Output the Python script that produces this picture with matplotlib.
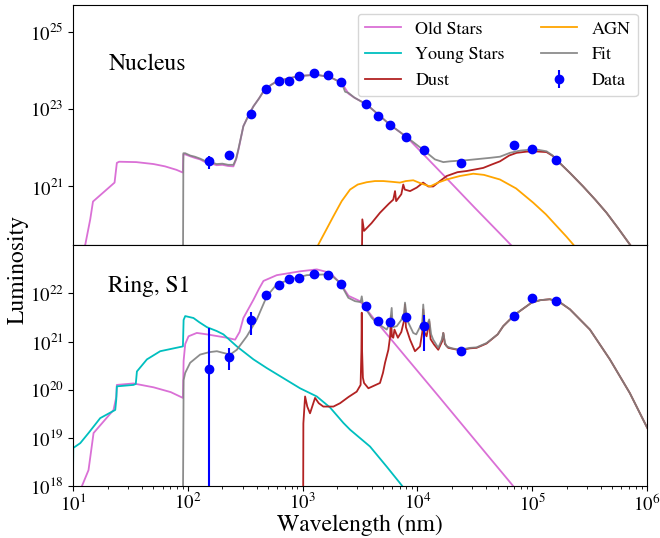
"""
SED decomposition of the nucleus and ring (S1) regions.
"""
import matplotlib
matplotlib.use("Agg")
import matplotlib.pyplot as plt
import matplotlib.ticker as mticker
import numpy as np

plt.rcParams["font.family"] = "STIXGeneral"
plt.rcParams["mathtext.fontset"] = "stix"

# -- photometry (wavelength in nm, log10 luminosity) ---------------------------
band_nm = [153, 229, 357, 480, 627, 766, 925, 1250, 1655, 2170, 3590, 4570,
           5770, 7940, 11480, 23800, 69800, 100000, 161000]
nuc_logL = [21.66, 21.82, 22.88, 23.52, 23.74, 23.74, 23.86, 23.93, 23.89, 23.70,
            23.13, 22.82, 22.60, 22.28, 21.94, 21.60, 22.06, 21.97, 21.69]
nuc_err = [1.7e21, 0, 0, 0, 0, 0, 0, 0, 0, 0, 0, 0, 0, 0, 0, 0, 0, 0, 0]
ring_logL = [20.43, 20.69, 21.44, 21.96, 22.18, 22.29, 22.32, 22.40, 22.39, 22.20,
             21.74, 21.42, 21.41, 21.52, 21.33, 20.81, 21.54, 21.90, 21.85]
ring_err = [1.68e21, 2.3e20, 1.4e21, 0, 0, 0, 0, 0, 0, 0, 0, 0, 0, 0, 1.5e21,
            0, 0, 0, 0]

# -- nucleus model components (log10 wavelength nm, log10 luminosity) ---------
nuc_old_lw = [1.08, 1.105, 1.148, 1.172, 1.36, 1.38, 1.40, 1.55, 1.70, 1.80, 1.90,
              1.955, 1.960, 1.976, 2.02, 2.06, 2.106, 2.15, 2.185, 2.25, 2.30, 2.35,
              2.396, 2.42, 2.44, 2.483, 2.53, 2.57, 2.62, 2.658, 2.72, 2.774, 2.88,
              2.977, 3.12, 3.239, 3.34, 3.40, 3.45, 3.558, 3.66, 3.76, 3.906, 4.05,
              4.226, 4.50, 4.72, 4.85]
nuc_old_lL = [19.3, 19.5, 20.15, 20.61, 21.10, 21.61, 21.64, 21.63, 21.58, 21.52, 21.43,
              21.36, 21.83, 21.83, 21.78, 21.74, 21.70, 21.63, 21.61, 21.55, 21.56, 21.53,
              21.52, 21.70, 21.95, 22.56, 22.85, 23.07, 23.28, 23.46, 23.62, 23.72, 23.80,
              23.86, 23.89, 23.83, 23.68, 23.40, 23.30, 23.12, 22.86, 22.60, 22.28, 21.84,
              21.30, 20.45, 19.78, 19.38]

nuc_fit_lw = [1.956, 1.960, 1.976, 2.02, 2.06, 2.106, 2.15, 2.185, 2.25, 2.30, 2.35,
              2.396, 2.42, 2.44, 2.483, 2.53, 2.57, 2.62, 2.658, 2.72, 2.774, 2.88,
              2.977, 3.12, 3.239, 3.34, 3.37, 3.40, 3.45, 3.558, 3.66, 3.76, 3.906,
              4.05, 4.153, 4.226, 4.284, 4.43, 4.632, 4.72, 4.807, 4.90, 4.98, 5.05,
              5.126, 5.18, 5.24, 5.33, 5.445, 5.55, 5.649, 5.75, 5.852, 5.95]
nuc_fit_lL = [18.5, 21.86, 21.86, 21.80, 21.77, 21.72, 21.66, 21.64, 21.58, 21.59, 21.56,
              21.56, 21.72, 21.97, 22.56, 22.85, 23.07, 23.28, 23.46, 23.62, 23.72, 23.80,
              23.86, 23.89, 23.83, 23.68, 23.45, 23.42, 23.30, 23.12, 22.86, 22.60, 22.28,
              21.95, 21.70, 21.63, 21.65, 21.68, 21.74, 21.77, 21.87, 21.93, 21.95, 21.95,
              21.91, 21.80, 21.61, 21.35, 21.00, 20.66, 20.32, 19.92, 19.50, 19.10]

nuc_dust_lw = [3.514, 3.52, 3.535, 3.60, 3.674, 3.75, 3.79, 3.805, 3.815, 3.86, 3.877,
               3.89, 3.936, 3.994, 4.05, 4.095, 4.138, 4.197, 4.255, 4.35, 4.43, 4.574,
               4.65, 4.72, 4.80, 4.865, 4.95, 5.01, 5.126, 5.18, 5.24, 5.33, 5.445,
               5.55, 5.649, 5.75, 5.852, 5.95]
nuc_dust_lL = [18.5, 20.15, 19.85, 20.05, 20.32, 20.55, 20.66, 20.88, 20.62, 20.80, 21.05,
               20.92, 20.88, 20.97, 21.10, 21.00, 21.00, 21.14, 21.27, 21.37, 21.40, 21.48,
               21.57, 21.65, 21.80, 21.87, 21.90, 21.91, 21.89, 21.79, 21.61, 21.35, 21.00,
               20.66, 20.32, 19.92, 19.50, 19.10]

nuc_agn_lw = [3.10, 3.137, 3.20, 3.268, 3.34, 3.413, 3.48, 3.558, 3.63, 3.703, 3.78,
              3.848, 3.90, 3.964, 4.03, 4.11, 4.18, 4.255, 4.37, 4.487, 4.58, 4.72,
              4.86, 5.01, 5.12, 5.213, 5.30, 5.358, 5.42]
nuc_agn_lL = [19.0, 19.5, 19.85, 20.23, 20.62, 20.92, 21.05, 21.11, 21.14, 21.14, 21.12,
              21.10, 21.14, 21.16, 21.08, 21.00, 21.10, 21.18, 21.27, 21.33, 21.30, 21.18,
              20.95, 20.58, 20.28, 19.98, 19.70, 19.50, 19.25]

# -- ring model components -----------------------------------------------------
ring_old_lw = [1.05, 1.076, 1.133, 1.177, 1.351, 1.375, 1.38, 1.525, 1.70, 1.85, 1.956,
               1.962, 1.976, 2.005, 2.077, 2.165, 2.339, 2.411, 2.45, 2.483, 2.571, 2.62,
               2.658, 2.774, 2.977, 3.123, 3.239, 3.326, 3.40, 3.50, 3.616, 3.906, 4.197,
               4.632, 4.821, 4.90]
ring_old_lL = [17.6, 18.0, 18.33, 19.10, 19.58, 19.85, 20.10, 20.13, 20.05, 19.95, 19.83,
               20.60, 20.95, 21.11, 21.18, 21.15, 21.08, 21.04, 21.20, 21.49, 21.87, 22.10,
               22.26, 22.38, 22.46, 22.50, 22.43, 22.22, 21.95, 21.84, 21.49, 20.66, 19.83,
               18.58, 18.04, 17.80]

ring_young_lw = [0.995, 1.0, 1.061, 1.133, 1.235, 1.366, 1.375, 1.38, 1.525, 1.545, 1.555,
                 1.642, 1.758, 1.956, 1.962, 1.976, 2.048, 2.10, 2.165, 2.25, 2.309, 2.426,
                 2.571, 2.687, 2.832, 2.977, 3.123, 3.239, 3.355, 3.413, 3.587, 3.733,
                 3.848, 3.90]
ring_young_lL = [17.5, 18.79, 18.89, 19.10, 19.41, 19.58, 19.80, 20.07, 20.10, 20.12, 20.38,
                 20.63, 20.80, 20.90, 21.45, 21.53, 21.49, 21.40, 21.30, 21.22, 21.15, 20.90,
                 20.63, 20.45, 20.24, 20.03, 19.86, 19.63, 19.31, 19.17, 18.82, 18.40,
                 18.06, 17.90]

ring_dust_lw = [3.004, 3.006, 3.021, 3.04, 3.064, 3.108, 3.14, 3.18, 3.268, 3.326, 3.40,
                3.471, 3.505, 3.512, 3.515, 3.518, 3.525, 3.535, 3.573, 3.674, 3.70, 3.718,
                3.747, 3.762, 3.77, 3.778, 3.79, 3.80, 3.83, 3.86, 3.885, 3.892, 3.90,
                3.936, 3.979, 4.023, 4.043, 4.051, 4.06, 4.08, 4.095, 4.103, 4.115, 4.145,
                4.182, 4.215, 4.226, 4.24, 4.269, 4.35, 4.40, 4.458, 4.516, 4.603, 4.70,
                4.748, 4.85, 4.996, 5.07, 5.155, 5.24, 5.33, 5.504, 5.678, 5.852, 5.997,
                6.05]
ring_dust_lL = [17.5, 19.30, 19.86, 19.65, 19.51, 19.83, 19.72, 19.65, 19.65, 19.72, 19.85,
                19.96, 20.10, 20.80, 21.60, 20.80, 20.25, 20.14, 20.03, 20.14, 20.35, 20.56,
                20.83, 21.10, 21.53, 21.10, 21.08, 21.25, 21.08, 21.20, 21.45, 21.77, 21.30,
                21.04, 20.80, 20.90, 21.20, 21.67, 21.20, 21.11, 21.30, 21.42, 21.05, 20.94,
                20.83, 21.00, 21.18, 20.95, 20.87, 20.83, 20.83, 20.86, 20.87, 20.96, 21.15,
                21.32, 21.56, 21.81, 21.86, 21.88, 21.82, 21.67, 21.25, 20.63, 19.93, 19.24,
                19.00]

ring_fit_lw = [1.956, 1.962, 1.976, 2.019, 2.106, 2.185, 2.252, 2.30, 2.368, 2.426, 2.513,
               2.60, 2.687, 2.774, 2.89, 3.036, 3.239, 3.326, 3.398, 3.456, 3.505, 3.515,
               3.525, 3.60, 3.645, 3.733, 3.762, 3.776, 3.785, 3.82, 3.86, 3.885, 3.892,
               3.91, 3.964, 3.99, 4.043, 4.051, 4.065, 4.085, 4.103, 4.12, 4.138, 4.182,
               4.215, 4.226, 4.24, 4.255, 4.30, 4.371, 4.458, 4.516, 4.603, 4.70, 4.748,
               4.85, 4.996, 5.07, 5.155, 5.24, 5.33, 5.504, 5.678, 5.852, 5.997, 6.05]
ring_fit_lL = [17.5, 20.20, 20.35, 20.56, 20.73, 20.78, 20.80, 20.77, 20.73, 20.83, 21.11,
               21.46, 21.94, 22.19, 22.29, 22.38, 22.40, 22.22, 21.91, 21.84, 21.82, 21.94,
               21.77, 21.50, 21.39, 21.25, 21.40, 21.70, 21.30, 21.32, 21.45, 21.60, 21.81,
               21.45, 21.18, 21.15, 21.40, 21.77, 21.30, 21.35, 21.46, 21.15, 21.04, 20.87,
               21.05, 21.18, 20.98, 20.90, 20.86, 20.83, 20.87, 20.88, 20.97, 21.15, 21.32,
               21.56, 21.81, 21.86, 21.88, 21.82, 21.67, 21.25, 20.63, 19.93, 19.24, 19.00]


def pw(a):
    return np.power(10.0, np.asarray(a))


fig = plt.figure(figsize=(6.6, 5.38), dpi=100)
ax_n = fig.add_axes([0.111, 0.544, 0.869, 0.447])
ax_r = fig.add_axes([0.111, 0.0967, 0.869, 0.4473], sharex=ax_n)

LW = 1.3

# -- nucleus -------------------------------------------------------------------
ax_n.plot(pw(nuc_old_lw), pw(nuc_old_lL), color="orchid", lw=LW, label="Old Stars")
ax_n.plot([], [], color="c", lw=LW, label="Young Stars")
ax_n.plot(pw(nuc_dust_lw), pw(nuc_dust_lL), color="firebrick", lw=LW, label="Dust")
ax_n.plot(pw(nuc_agn_lw), pw(nuc_agn_lL), color="orange", lw=LW, label="AGN")
ax_n.plot(pw(nuc_fit_lw), pw(nuc_fit_lL), color="gray", lw=LW, alpha=0.9, label="Fit")
ax_n.errorbar(band_nm, pw(nuc_logL), yerr=nuc_err, fmt="o", color="b", ms=6,
              elinewidth=1.5, capsize=0, zorder=5, label="Data")

ax_n.set_xscale("log")
ax_n.set_yscale("log")
ax_n.set_xlim(10, 1e6)
ax_n.set_ylim(3e19, 5e25)
ax_n.yaxis.set_major_locator(mticker.FixedLocator([1e21, 1e23, 1e25]))
ax_n.yaxis.set_minor_locator(mticker.NullLocator())
ax_n.tick_params(axis="x", which="both", labelbottom=False, length=0)
ax_n.text(0.061, 0.754, "Nucleus", transform=ax_n.transAxes, fontsize=17, va="center")
ax_n.legend(loc="upper right", ncol=2, fontsize=13)

# -- ring ----------------------------------------------------------------------
ax_r.plot(pw(ring_old_lw), pw(ring_old_lL), color="orchid", lw=LW)
ax_r.plot(pw(ring_young_lw), pw(ring_young_lL), color="c", lw=LW)
ax_r.plot(pw(ring_dust_lw), pw(ring_dust_lL), color="firebrick", lw=LW)
ax_r.plot(pw(ring_fit_lw), pw(ring_fit_lL), color="gray", lw=LW, alpha=0.9)
ax_r.errorbar(band_nm, pw(ring_logL), yerr=ring_err, fmt="o", color="b", ms=6,
              elinewidth=1.5, capsize=0, zorder=5)

ax_r.set_yscale("log")
ax_r.set_ylim(1e18, 1e23)
ax_r.yaxis.set_major_locator(mticker.FixedLocator([1e18, 1e19, 1e20, 1e21, 1e22]))
ax_r.yaxis.set_minor_locator(mticker.NullLocator())
ax_r.text(0.061, 0.83, "Ring, S1", transform=ax_r.transAxes, fontsize=17, va="center")
ax_r.set_xlabel("Wavelength (nm)", fontsize=17, labelpad=0)

for ax in [ax_n, ax_r]:
    ax.tick_params(axis="both", which="major", labelsize=13.5)
ax_r.tick_params(axis="x", which="major", pad=1.5)

fig.text(0.027, 0.5, "Luminosity", rotation=90, fontsize=17, va="center", ha="center")

plt.savefig("out.png", dpi=100)
plt.close()
